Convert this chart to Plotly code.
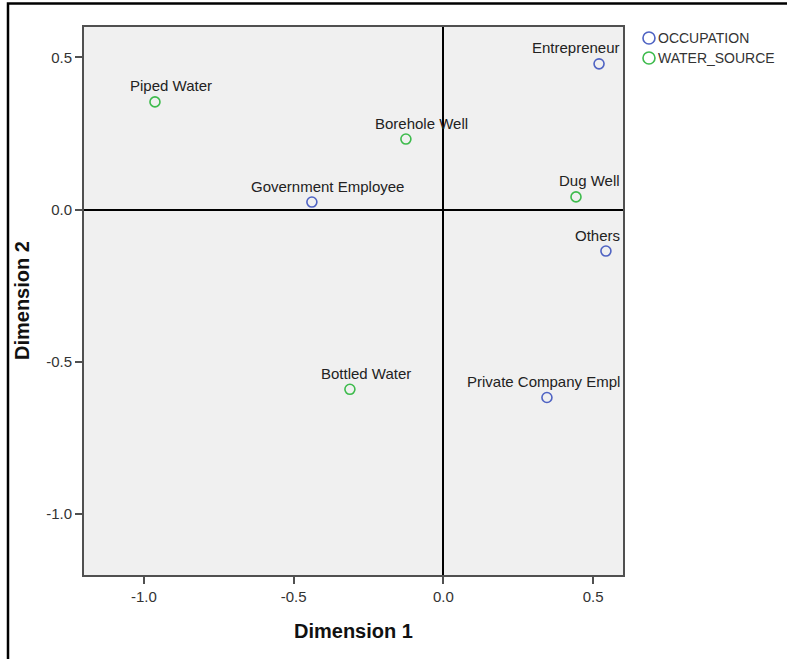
import plotly.graph_objects as go

# Category points (Dimension 1, Dimension 2) for each variable
occ_labels = ["Entrepreneur", "Government Employee", "Others", "Private Company Empl"]
occ_dim1 = [0.520, -0.439, 0.543, 0.346]
occ_dim2 = [0.479, 0.025, -0.136, -0.617]

water_labels = ["Piped Water", "Borehole Well", "Dug Well", "Bottled Water"]
water_dim1 = [-0.963, -0.125, 0.443, -0.312]
water_dim2 = [0.354, 0.232, 0.042, -0.590]

series_names = ["OCCUPATION", "WATER_SOURCE"]
series_colors = ["#4F63C3", "#3DBB4C"]

x_ticks = [-1.0, -0.5, 0.0, 0.5]
x_ticktext = ["-1.0", "-0.5", "0.0", "0.5"]
y_ticks = [-1.0, -0.5, 0.0, 0.5]
y_ticktext = ["-1.0", "-0.5", "0.0", "0.5"]
X_RANGE = [-1.2, 0.6]
Y_RANGE = [-1.2, 0.6]

FONT = "Liberation Sans, Arial, sans-serif"
W, H = 787, 659
M = dict(l=84, r=164, t=27, b=84)
plot_w = W - M["l"] - M["r"]

# Approximate Arial advance widths (per 1000 em) used to keep labels inside the plot
_w = {c: v for c, v in zip("ABCDEFGHIJKLMNOPQRSTUVWXYZ",
     [667, 667, 722, 722, 667, 611, 778, 722, 278, 500, 667, 556, 833, 722, 778, 667, 778, 722, 667, 611, 722, 667, 944, 667, 667, 611])}
_w.update({c: v for c, v in zip("abcdefghijklmnopqrstuvwxyz",
     [556, 556, 500, 556, 556, 278, 556, 556, 222, 222, 500, 222, 833, 556, 556, 556, 556, 333, 500, 278, 556, 500, 722, 500, 500, 500])})
_w[" "] = 278


def text_width(s, size):
    return sum(_w.get(c, 556) for c in s) * size / 1000.0


def to_px(x):
    return M["l"] + (x - X_RANGE[0]) / (X_RANGE[1] - X_RANGE[0]) * plot_w


LABEL_SIZE = 15
LABEL_DX = 16
LABEL_DY = 16

fig = go.Figure()
annotations = []

groups = [(occ_labels, occ_dim1, occ_dim2), (water_labels, water_dim1, water_dim2)]
for (labels, xs, ys), name, color in zip(groups, series_names, series_colors):
    fig.add_trace(go.Scatter(
        x=xs, y=ys, mode="markers", name=name, showlegend=False,
        marker=dict(symbol="circle-open", size=10, color=color, line=dict(width=1.6, color=color)),
        hoverinfo="text", text=labels,
    ))
    for lab, x, y in zip(labels, xs, ys):
        right = to_px(x) + LABEL_DX + text_width(lab, LABEL_SIZE) / 2
        if right > M["l"] + plot_w - 1:
            annotations.append(dict(x=X_RANGE[1], y=y, xref="x", yref="y", text=lab,
                                    showarrow=False, xanchor="right", yanchor="middle",
                                    xshift=-1, yshift=LABEL_DY,
                                    font=dict(family=FONT, size=LABEL_SIZE, color="#222")))
        else:
            annotations.append(dict(x=x, y=y, xref="x", yref="y", text=lab,
                                    showarrow=False, xanchor="center", yanchor="middle",
                                    xshift=LABEL_DX, yshift=LABEL_DY,
                                    font=dict(family=FONT, size=LABEL_SIZE, color="#222")))

# Legend drawn beside the plot: open circle + series name
shapes = []
legend_x = 1.0482
legend_ys = [0.9799, 0.9434]
for name, color, ly in zip(series_names, series_colors, legend_ys):
    shapes.append(dict(type="circle", xref="paper", yref="paper", xsizemode="pixel", ysizemode="pixel",
                       xanchor=legend_x, yanchor=ly, x0=-6, x1=6, y0=-6, y1=6,
                       line=dict(color=color, width=1.6), fillcolor="rgba(0,0,0,0)"))
    annotations.append(dict(x=legend_x, y=ly, xref="paper", yref="paper", text=name,
                            showarrow=False, xanchor="left", yanchor="middle", xshift=7,
                            font=dict(family=FONT, size=14, color="#333")))

# Axis titles
annotations.append(dict(x=0.5, y=-0.1022, xref="paper", yref="paper", text="<b>Dimension 1</b>",
                        showarrow=False, xanchor="center", yanchor="middle",
                        font=dict(family=FONT, size=20, color="#111")))
annotations.append(dict(x=-0.115, y=0.5, xref="paper", yref="paper", text="<b>Dimension 2</b>",
                        showarrow=False, xanchor="center", yanchor="middle", textangle=-90,
                        font=dict(family=FONT, size=20, color="#111")))

# Outer frame (extends past the right and bottom edges of the page)
shapes.append(dict(type="rect", xref="paper", yref="paper", x0=-0.141, x1=1.6, y0=-0.4, y1=1.043,
                   line=dict(color="black", width=2.5), fillcolor="rgba(0,0,0,0)", layer="below"))

axis_common = dict(
    showline=True, mirror=True, linecolor="#505050", linewidth=2,
    ticks="outside", ticklen=7, tickwidth=2, tickcolor="#505050",
    showgrid=False, zeroline=True, zerolinecolor="black", zerolinewidth=1.5,
    tickfont=dict(family=FONT, size=15, color="#333"),
)

fig.update_xaxes(range=X_RANGE, tickvals=x_ticks, ticktext=x_ticktext, **axis_common)
fig.update_yaxes(range=Y_RANGE, tickvals=y_ticks, ticktext=y_ticktext, **axis_common)

fig.update_layout(
    width=W, height=H, margin=M,
    paper_bgcolor="white", plot_bgcolor="#F0F0F0",
    showlegend=False, annotations=annotations, shapes=shapes,
    font=dict(family=FONT),
)

fig.write_html("out.html")
